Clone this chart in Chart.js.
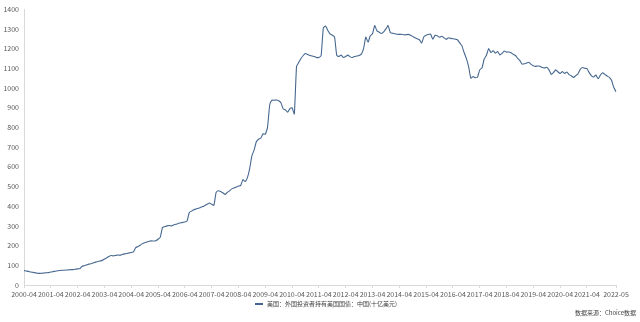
<!DOCTYPE html>
<html><head><meta charset="utf-8">
<script src="https://cdn.jsdelivr.net/npm/chart.js@4.4.1/dist/chart.umd.min.js"></script>
<style>
html,body{margin:0;padding:0;background:#fff;}
#wrap{position:relative;width:640px;height:322px;overflow:hidden;}
#c{position:absolute;left:0;top:0;}
#legend{position:absolute;left:255px;top:300px;height:8px;line-height:8px;font-size:6px;font-family:'Noto Sans CJK SC',sans-serif;color:#404040;white-space:nowrap;}
#legend .mk{display:inline-block;width:8px;height:1.5px;background:#44658f;vertical-align:middle;margin-right:4px;position:relative;top:-0.5px;}
#src{position:absolute;right:4px;top:309px;height:8px;line-height:8px;font-size:6px;font-family:'Noto Sans CJK SC',sans-serif;color:#404040;white-space:nowrap;}
</style></head><body>
<div id="wrap">
<canvas id="c" width="640" height="322" style="width:640px;height:322px"></canvas>
<div id="legend"><span class="mk"></span>美国：外国投资者持有美国国债：中国(十亿美元)</div>
<div id="src">数据来源：Choice数据</div>
</div>
<script>
// Monthly values (billion USD), April of each year through March of next year
const y2000 = [73, 71, 69, 66, 64, 62, 60, 59, 60, 61, 62, 63];
const y2001 = [66, 68, 70, 72, 74, 75, 75, 76, 77, 78, 78, 80];
const y2002 = [82, 83, 95, 98, 102, 106, 108, 112, 116, 119, 122, 125];
const y2003 = [132, 138, 145, 150, 148, 150, 152, 151, 155, 158, 160, 163];
const y2004 = [165, 168, 190, 195, 202, 210, 215, 218, 222, 224, 223, 225];
const y2005 = [232, 243, 292, 296, 300, 302, 300, 305, 308, 312, 315, 318];
const y2006 = [320, 325, 368, 375, 382, 386, 390, 393, 398, 404, 410, 416];
const y2007 = [410, 405, 470, 478, 475, 468, 460, 470, 478, 488, 492, 497];
const y2008 = [502, 506, 535, 525, 545, 590, 655, 685, 727, 740, 745, 768];
const y2009 = [765, 800, 915, 938, 938, 939, 935, 925, 895, 889, 877, 895];
const y2010 = [900, 868, 1110, 1130, 1150, 1165, 1175, 1170, 1165, 1162, 1160, 1155];
const y2011 = [1155, 1165, 1305, 1315, 1292, 1275, 1268, 1260, 1165, 1160, 1167, 1155];
const y2012 = [1160, 1167, 1158, 1155, 1160, 1162, 1165, 1172, 1200, 1258, 1232, 1265];
const y2013 = [1275, 1317, 1290, 1283, 1277, 1285, 1300, 1317, 1280, 1278, 1275, 1273];
const y2014 = [1272, 1273, 1270, 1270, 1272, 1268, 1262, 1255, 1250, 1245, 1228, 1260];
const y2015 = [1268, 1272, 1273, 1248, 1268, 1265, 1258, 1263, 1255, 1247, 1255, 1252];
const y2016 = [1250, 1248, 1245, 1230, 1215, 1180, 1150, 1110, 1050, 1058, 1052, 1055];
const y2017 = [1092, 1102, 1147, 1166, 1200, 1180, 1189, 1177, 1185, 1168, 1176, 1188];
const y2018 = [1182, 1183, 1179, 1171, 1165, 1150, 1139, 1121, 1123, 1127, 1131, 1120];
const y2019 = [1113, 1110, 1112, 1110, 1104, 1102, 1105, 1092, 1069, 1078, 1092, 1082];
const y2020 = [1074, 1083, 1074, 1081, 1068, 1062, 1054, 1063, 1072, 1095, 1104, 1100];
const y2021 = [1098, 1078, 1062, 1056, 1066, 1047, 1065, 1077, 1069, 1061, 1054, 1039];
const y2022 = [1003, 981];

const tickLabels = ['2000-04','2001-04','2002-04','2003-04','2004-04','2005-04','2006-04','2007-04',
  '2008-04','2009-04','2010-04','2011-04','2012-04','2013-04','2014-04','2015-04','2016-04',
  '2017-04','2018-04','2019-04','2020-04','2021-04','2022-05'];
const yTicks = [0,100,200,300,400,500,600,700,800,900,1000,1100,1200,1300,1400];
const seriesName = '美国：外国投资者持有美国国债：中国(十亿美元)';

const values = [].concat(y2000,y2001,y2002,y2003,y2004,y2005,y2006,y2007,y2008,y2009,y2010,
  y2011,y2012,y2013,y2014,y2015,y2016,y2017,y2018,y2019,y2020,y2021,y2022);

// category labels: months 2000-04 .. 2022-05
const months = [];
for (let y = 2000, m = 4; months.length < values.length; ) {
  months.push(y + '-' + String(m).padStart(2,'0'));
  m++; if (m > 12) { m = 1; y++; }
}
const tickIdx = tickLabels.map(l => months.indexOf(l));

const FONT = "'Noto Sans CJK SC', 'DejaVu Sans', sans-serif";
new Chart(document.getElementById('c'), {
  type: 'line',
  data: { labels: months, datasets: [{ label: seriesName, data: values, borderColor: '#46678f',
    borderWidth: 1.1, pointRadius: 0, tension: 0.15, fill: false }] },
  options: {
    responsive: false, animation: false, devicePixelRatio: 1,
    layout: { padding: { left: 0, right: 24, top: 5, bottom: 23 } },
    plugins: { legend: { display: false }, tooltip: { enabled: false } },
    scales: {
      x: {
        type: 'category', offset: false,
        grid: { display: true, drawOnChartArea: false, drawTicks: true, tickLength: 3, color: '#d9d9d9' },
        border: { display: true, color: '#d9d9d9' },
        ticks: { autoSkip: false, maxRotation: 0, minRotation: 0, font: { size: 7, family: FONT }, color: '#595959', padding: 2,
          callback: (v, i) => tickLabels[i] },
        afterBuildTicks: axis => { axis.ticks = tickIdx.map(v => ({ value: v })); },
        afterFit: s => { s.height = 14; }
      },
      y: {
        min: 0, max: 1400,
        grid: { display: false, drawTicks: false },
        border: { display: true, color: '#d9d9d9' },
        ticks: { font: { size: 7, family: FONT }, color: '#595959', padding: 5, callback: v => String(v) },
        afterBuildTicks: axis => { axis.ticks = yTicks.map(v => ({ value: v })); },
        afterFit: s => { s.width = 24; }
      }
    }
  }
});
</script>
</body></html>
